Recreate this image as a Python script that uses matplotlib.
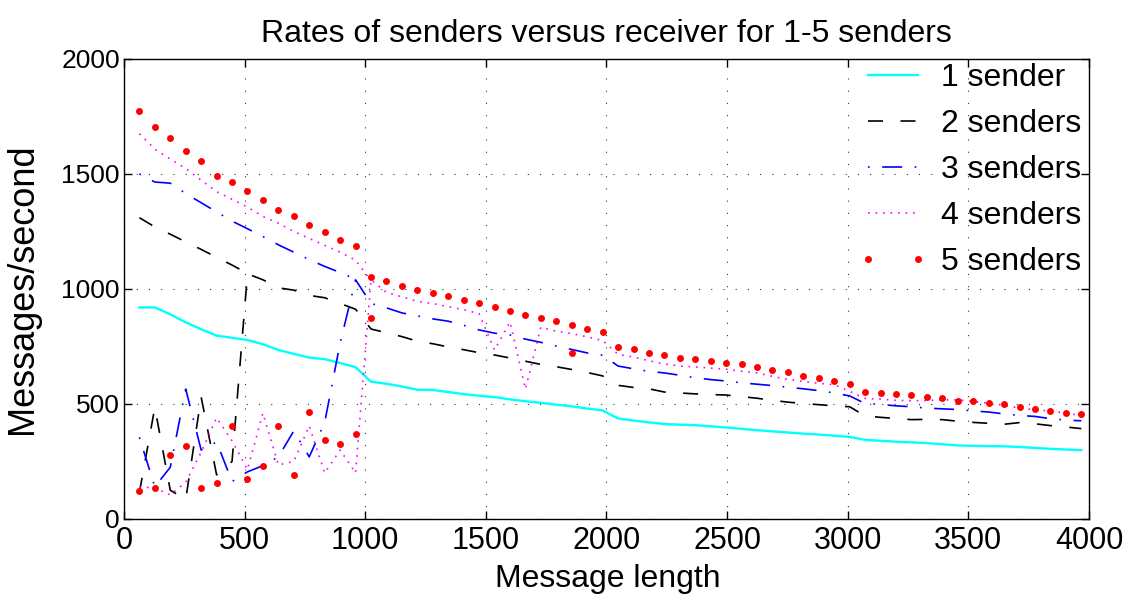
import numpy as np
import matplotlib
matplotlib.use("Agg")
import matplotlib.pyplot as plt
from matplotlib.lines import Line2D
from matplotlib.legend_handler import HandlerLine2D

plt.rcParams['font.family'] = ['Liberation Sans', 'DejaVu Sans']

# message lengths (bytes), measured every 64
msg_len = np.arange(64, 4000, 64)

# 1 sender
s1 = [920, 920, 890, 855, 825, 797, 788, 778, 760, 735, 718, 702, 695, 678, 660,
      597, 588, 576, 562, 561, 552, 543, 536, 530, 520, 512, 505, 497, 490, 480, 472,
      437, 428, 420, 413, 410, 408, 403, 398, 392, 386, 381, 376, 371, 367, 362, 357,
      344, 340, 336, 333, 330, 325, 320, 318, 317, 316, 313, 309, 305, 302, 299]

# 2 senders (second run only covers the start)
s2 = [115, 485, 125, 85, 530, 192, 250, 1066, 1040, 1005, 995, 972, 962, 937, 912,
      826, 810, 793, 773, 762, 748, 736, 723, 713, 700, 686, 672, 662, 650, 637, 622,
      581, 572, 566, 552, 548, 544, 541, 539, 532, 525, 516, 508, 502, 497, 492, 488,
      448, 442, 437, 432, 433, 432, 425, 420, 416, 412, 419, 414, 406, 400, 393]
s2_b = [1310, 1270, 1238, 1205, 1172, 1138, 1104, 1068]

# 3 senders
s3 = [355, 140, 225, 565, 300, 335, 163, 205, 232, 270, 383, 270, 420, 765, 1040,
      937, 918, 896, 883, 870, 860, 842, 822, 808, 800, 782, 768, 752, 737, 722, 712,
      665, 653, 642, 635, 625, 614, 606, 600, 592, 586, 580, 573, 566, 558, 548, 535,
      502, 498, 492, 488, 482, 479, 476, 470, 465, 457, 450, 446, 436, 430, 427]
s3_b = [1500, 1465, 1460, 1415, 1375, 1335, 1295, 1262, 1228, 1192, 1160, 1128,
        1098, 1072, 1042]

# 4 senders
s4 = [140, 135, 105, 160, 290, 440, 340, 215, 460, 235, 250, 405, 200, 300, 200,
      1040, 985, 966, 946, 937, 923, 910, 893, 735, 857, 565, 834, 816, 806, 792, 776,
      716, 704, 688, 674, 665, 661, 656, 651, 642, 635, 620, 607, 598, 590, 584, 555,
      524, 521, 516, 514, 515, 518, 518, 511, 503, 495, 482, 475, 469, 460, 450]
s4_b = [1675, 1608, 1565, 1524, 1473, 1423, 1390, 1356, 1315, 1286, 1250, 1220,
        1190, 1160, 1125, 1036]

# 5 senders
s5 = [1775, 1703, 1655, 1599, 1555, 1493, 1467, 1425, 1388, 1345, 1316, 1279, 1249,
      1214, 1188, 1052, 1036, 1014, 997, 982, 968, 953, 937, 921, 905, 889, 875, 859,
      844, 828, 814, 748, 738, 721, 712, 701, 695, 686, 680, 672, 663, 646, 637, 622,
      612, 598, 587, 554, 547, 543, 538, 531, 524, 515, 511, 506, 501, 485, 477, 469,
      463, 456]
s5_b = [120, 133, 279, 319, 135, 158, 403, 176, 229, 405, 191, 466, 345, 326, 369, 876]
s5_extra_x = [1856]
s5_extra_y = [722]

fig = plt.figure(figsize=(11.33, 6.0), dpi=100)
ax = fig.add_axes([0.1094, 0.135, 0.8518, 0.7667])

dash2 = (0, (9, 10.5))
dash3 = (0, (1, 7.5, 12, 7.5))
dot4 = (0, (1, 3.5))

ax.plot(msg_len, s1, color='cyan', lw=1.7, label='1 sender')
ax.plot(msg_len, s2, color='k', lw=1.2, linestyle=dash2, label='2 senders')
ax.plot(msg_len[:len(s2_b)], s2_b, color='k', lw=1.2, linestyle=dash2)
ax.plot(msg_len, s3, color='b', lw=1.2, linestyle=dash3, label='3 senders')
ax.plot(msg_len[:len(s3_b)], s3_b, color='b', lw=1.2, linestyle=dash3)
ax.plot(msg_len, s4, color='magenta', lw=1.2, linestyle=dot4, label='4 senders')
ax.plot(msg_len[:len(s4_b)], s4_b, color='magenta', lw=1.2, linestyle=dot4)
ax.plot(msg_len, s5, 'o', color='red', ms=5, mew=0, label='5 senders')
ax.plot(msg_len[:len(s5_b)], s5_b, 'o', color='red', ms=5, mew=0)
ax.plot(s5_extra_x, s5_extra_y, 'o', color='red', ms=5, mew=0)

ax.set_xlim(0, 4000)
ax.set_ylim(0, 2000)
ax.set_xticks(np.arange(0, 4001, 500))
ax.set_yticks(np.arange(0, 2001, 500))
ax.grid(True, color='0.2', lw=0.8, linestyle=(0, (1, 10)))
ax.tick_params(direction='in', length=6, width=1, top=True, right=True)
ax.tick_params(axis='x', labelsize=22, pad=5)
ax.tick_params(axis='y', labelsize=19, pad=3)
for sp in ax.spines.values():
    sp.set_linewidth(1.0)

ax.set_title('Rates of senders versus receiver for 1-5 senders', fontsize=23, pad=12)
ax.set_xlabel('Message length', fontsize=23)
ax.xaxis.set_label_coords(0.5015, -0.098)
ax.set_ylabel('Messages/second', fontsize=26)
ax.yaxis.set_label_coords(-0.087, 0.5)

# legend: handle lines span the full length, two markers at the ends
ax.legend(loc='upper left', bbox_to_anchor=(868 / 1133, 1 - 63 / 600),
          bbox_transform=fig.transFigure, frameon=False, fontsize=23,
          numpoints=2, handlelength=1.55, handletextpad=0.75, labelspacing=0.5,
          borderpad=0, borderaxespad=0,
          handler_map={Line2D: HandlerLine2D(marker_pad=0)})

fig.savefig('out.png', dpi=100)
